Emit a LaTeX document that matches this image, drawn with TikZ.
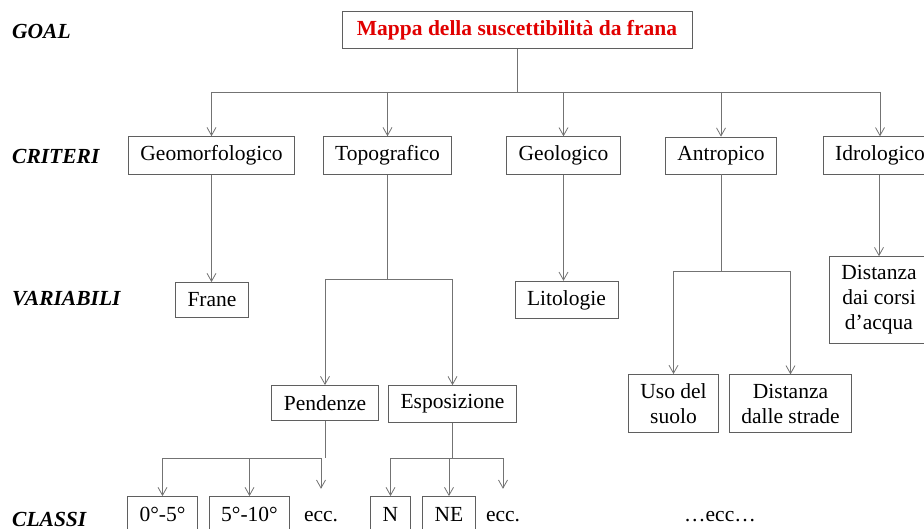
\documentclass[tikz,border=0pt]{standalone}
\usepackage{fontspec}
\setmainfont{Liberation Serif}
\usetikzlibrary{arrows.meta}
\definecolor{linegray}{RGB}{115,115,115}
\definecolor{boxgray}{RGB}{95,95,95}
\definecolor{goalred}{RGB}{225,0,0}
\tikzset{box/.style={draw=boxgray, line width=0.8pt, fill=white, minimum height=35pt, inner xsep=12pt, inner ysep=9pt, align=center, font=\fontsize{21.5}{25}\selectfont}}
\tikzset{plain/.style={inner sep=0pt, minimum height=56pt, font=\fontsize{21.5}{25}\selectfont}}
\tikzset{lvl/.style={anchor=west, inner sep=0pt, font=\fontsize{21.5}{25}\selectfont\bfseries\itshape}}
\tikzset{wire/.style={draw=linegray, line width=0.8pt}}
\tikzset{arr/.style={wire, -{Straight Barb[length=8pt, width=9pt]}}}
\begin{document}
\begin{tikzpicture}[x=1pt, y=-1pt]
\useasboundingbox (0,0) rectangle (924,529);
\clip (0,0) rectangle (924,529);
\node[lvl] (lgoal) at (12,31) {GOAL};
\node[lvl] (lcrit) at (12,156) {CRITERI};
\node[lvl] (lvar) at (12,299) {VARIABILI};
\node[lvl] (lcla) at (12,519) {CLASSI};
\node[box, minimum width=350pt, text=goalred, font=\fontsize{21.5}{25}\selectfont\bfseries] (goal) at (517,30) {Mappa della suscettibilità da frana};
\node[box] (geom) at (211.5,155.5) {Geomorfologico};
\node[box] (topo) at (387.5,155.5) {Topografico};
\node[box] (geol) at (563.5,155.5) {Geologico};
\node[box] (antr) at (721,155.5) {Antropico};
\node[box] (idro) at (880,155.5) {Idrologico};
\node[box] (frane) at (212,300) {Frane};
\node[box] (lito) at (566.5,300) {Litologie};
\node[box] (dcorsi) at (879,300) {Distanza\\dai corsi\\d’acqua};
\node[box] (pend) at (325,403) {Pendenze};
\node[box] (espo) at (452.5,404) {Esposizione};
\node[box] (uso) at (673.5,403.5) {Uso del\\suolo};
\node[box] (dstrade) at (790.5,403.5) {Distanza\\dalle strade};
\node[box] (c05) at (162.5,514) {0°-5°};
\node[box] (c510) at (249.5,514) {5°-10°};
\node[plain] (eccp) at (321,517) {ecc.};
\node[box] (nord) at (390.5,514) {N};
\node[box] (nest) at (449,514) {NE};
\node[plain] (ecce) at (503,517) {ecc.};
\node[plain] (eccall) at (720,517) {\dots ecc\dots};
\coordinate (crbar) at (0,92);
\coordinate (tbar) at (0,279);
\coordinate (abar) at (0,271);
\coordinate (pbar) at (0,458);
\draw[wire] (goal.south) -- (goal.south |- crbar);
\draw[wire] (geom.north |- crbar) -- (idro.north |- crbar);
\foreach \n in {geom,topo,geol,antr,idro} \draw[arr] (\n.north |- crbar) -- (\n.north);
\draw[arr] (geom.south) -- (geom.south |- frane.north);
\draw[arr] (geol.south) -- (geol.south |- lito.north);
\draw[arr] (idro.south -| dcorsi.north) -- (dcorsi.north);
\draw[wire] (topo.south) -- (topo.south |- tbar);
\draw[wire] (pend.north |- tbar) -- (espo.north |- tbar);
\foreach \n in {pend,espo} \draw[arr] (\n.north |- tbar) -- (\n.north);
\draw[wire] (antr.south) -- (antr.south |- abar);
\draw[wire] (uso.north |- abar) -- (dstrade.north |- abar);
\foreach \n in {uso,dstrade} \draw[arr] (\n.north |- abar) -- (\n.north);
\draw[wire] (pend.south) -- (pend.south |- pbar);
\draw[wire] (c05.north |- pbar) -- (eccp.north |- pbar);
\foreach \n in {c05,c510,eccp} \draw[arr] (\n.north |- pbar) -- (\n.north);
\draw[wire] (espo.south) -- (espo.south |- pbar);
\draw[wire] (nord.north |- pbar) -- (ecce.north |- pbar);
\foreach \n in {nord,nest,ecce} \draw[arr] (\n.north |- pbar) -- (\n.north);
\end{tikzpicture}
\end{document}
